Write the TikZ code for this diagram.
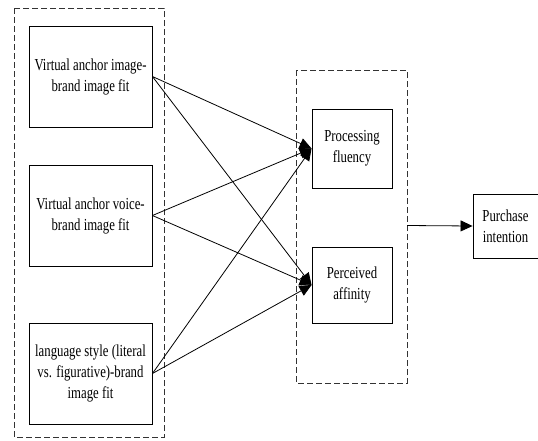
\documentclass[tikz,border=0pt]{standalone}
\usepackage{fontspec}
\setmainfont{Liberation Serif}[FakeStretch=0.76]
\usetikzlibrary{arrows.meta}

\begin{document}
\begin{tikzpicture}[x=1pt,y=-1pt,
  box/.style={draw,line width=0.9pt,align=center,inner sep=0pt,
    font=\fontsize{16.8}{21}\selectfont},
  group/.style={draw=black!80,line width=0.9pt,dash pattern=on 6pt off 3pt},
  link/.style={-{Triangle[length=12pt,width=11pt]},line width=0.8pt}]
\useasboundingbox (0,0) rectangle (538,440);

% left group
\draw[group] (14,8) rectangle (164,437);
\node[box,minimum width=123pt,minimum height=101pt] (img) at (90.5,76.5) {Virtual anchor image-\\brand image fit};
\node[box,minimum width=123pt,minimum height=101pt] (voice) at (90.5,215.5) {Virtual anchor voice-\\brand image fit};
\node[box,minimum width=123pt,minimum height=101pt] (lang) at (90.5,373.5) {language style (literal\\vs. figurative)-brand\\image fit};

% mediators
\draw[group] (296,70) rectangle (407,383);
\node[box,minimum width=80pt,minimum height=79pt] (flu) at (352,148.5) {Processing\\fluency};
\node[box,minimum width=80pt,minimum height=76pt] (aff) at (352,285) {Perceived\\affinity};
\coordinate (out) at (407,225.5);

\node[box,minimum width=65pt,minimum height=64pt] (buy) at (505.5,226) {Purchase\\intention};

\draw[link] (img.east) -- (flu.west);
\draw[link] (img.east) -- (aff.west);
\draw[link] (voice.east) -- (flu.west);
\draw[link] (voice.east) -- (aff.west);
\draw[link] (lang.east) -- (flu.west);
\draw[link] (lang.east) -- (aff.west);

\draw[link] (out) -- (buy.west);
\end{tikzpicture}
\end{document}
